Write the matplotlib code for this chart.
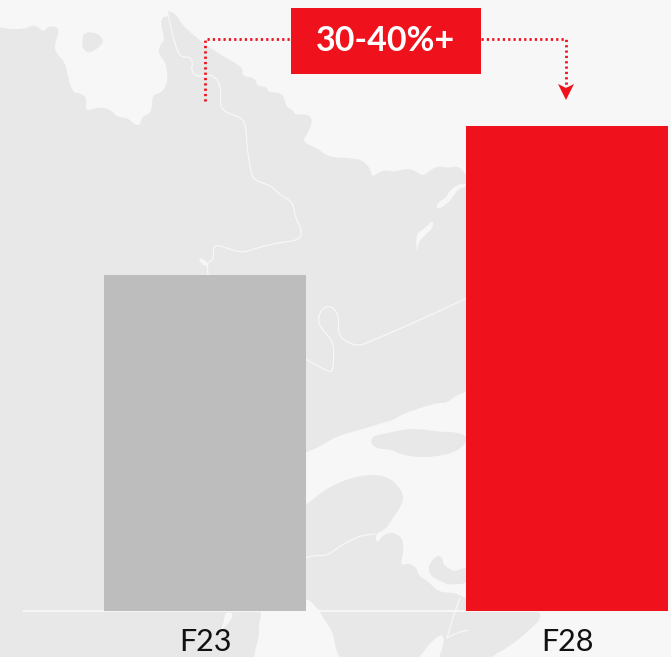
import matplotlib
matplotlib.use('Agg')
import matplotlib.pyplot as plt
import numpy as np
from matplotlib.patches import Polygon, Rectangle

# chart values (F23 indexed to 100)
categories = ['F23', 'F28']
values = [100, 144.3]
bar_colors = ['#bdbdbd', '#ef121d']
growth_label = '30-40%+'

BG = '#f7f7f7'
LAND = '#e8e8e8'
RED = '#ef121d'

# backdrop map, traced in picture pixels
mainland = [(-60, 26), (-5, 26), (7, 29), (25, 29), (32, 25), (38, 27), (44, 32), (48, 26), (57, 27), (59, 32), (55, 43),
            (55, 52), (65, 62), (68, 77), (73, 93), (80, 93), (87, 98), (85, 112), (97, 107), (110, 109),
            (117, 117), (128, 118), (135, 125), (140, 125), (142, 117), (152, 112), (152, 95), (163, 92),
            (168, 80), (166, 63), (158, 53), (160, 45), (165, 40), (161, 25), (162, 17), (168, 17), (167, 10),
            (177, 15), (182, 25), (197, 38), (213, 50), (230, 60), (243, 68), (242, 76), (255, 78), (257, 86),
            (267, 87), (268, 92), (283, 93), (286, 107), (293, 110), (295, 115), (307, 114), (313, 120),
            (308, 133), (302, 142), (317, 148), (328, 157), (350, 158), (362, 160), (370, 168), (372, 177),
            (378, 173), (385, 170), (395, 172), (408, 168), (417, 172), (423, 176), (428, 172), (437, 166),
            (448, 168), (457, 166), (464, 171), (480, 200), (480, 380), (466, 392), (457, 395), (447, 403),
            (437, 403), (420, 408), (403, 414), (393, 420), (382, 423), (363, 429), (337, 436), (317, 448),
            (306, 452), (260, 480), (250, 560), (262, 612), (259, 623), (259, 637), (255, 650), (253, 670),
            (250, 760), (-60, 760)]
lower_land = [(306, 505), (327, 488), (350, 478), (373, 474), (390, 478), (400, 488), (404, 498), (400, 508),
              (393, 518), (385, 530), (375, 534), (377, 544), (383, 535), (392, 532), (402, 537), (404, 550),
              (400, 566), (408, 563), (417, 568), (418, 575), (430, 583), (438, 592), (457, 593), (466, 599),
              (510, 605), (548, 612), (522, 637), (507, 648), (490, 657), (470, 690), (425, 690), (447, 639),
              (437, 633), (395, 690), (355, 690), (338, 655), (335, 645), (333, 633), (325, 620), (315, 605), (306, 598),
              (270, 590), (270, 530)]
island = [(84, 33), (92, 32), (100, 35), (104, 42), (98, 48), (90, 53), (83, 50), (82, 40)]
lake = [(370, 437), (387, 433), (413, 428), (440, 432), (457, 432), (470, 438), (457, 452), (433, 457),
        (413, 457), (397, 453), (393, 450), (373, 448)]
islet = [(430, 563), (437, 555), (443, 558), (443, 565), (455, 572), (462, 568), (470, 569), (470, 583),
         (450, 585), (442, 582), (432, 577), (428, 570)]
slivers = [[(433, 220), (433, 228), (425, 235), (418, 243), (417, 254), (416, 243), (417, 233), (425, 228)],
           [(437, 203), (447, 197), (449, 191), (457, 185), (466, 183), (466, 187), (458, 189), (453, 197),
            (447, 204), (437, 210)],
           [(225, 612), (234, 613), (229, 623), (220, 631), (224, 622)],
           [(198, 258), (204, 259), (209, 265), (203, 266)]]
rivers = [[(167, 10), (173, 37), (178, 53), (182, 57), (190, 57), (193, 63), (191, 70), (197, 77), (210, 74),
           (218, 80), (221, 90), (220, 107), (227, 113), (242, 118), (246, 127), (247, 147), (250, 167),
           (253, 180), (270, 185), (280, 195), (293, 202), (295, 217), (302, 230), (300, 240), (277, 243),
           (257, 248), (242, 253), (227, 248), (213, 244), (214, 260), (207, 262), (208, 275)],
          [(300, 356), (313, 363), (327, 371), (333, 372), (334, 350), (332, 340), (320, 327), (318, 318),
           (322, 309), (328, 306), (335, 309), (339, 318), (338, 332), (343, 340), (357, 346), (367, 343),
           (420, 320), (480, 292)],
          [(300, 560), (315, 555), (327, 556), (340, 546), (357, 537), (365, 535), (375, 534)],
          [(460, 598), (453, 617), (447, 638)],
          [(447, 638), (457, 633), (468, 630)]]


def smooth(pts, closed=True, n=3):
    # corner cutting so the traced outline does not look faceted
    pts = np.array(pts, dtype=float)
    for _ in range(n):
        if closed:
            nxt = np.roll(pts, -1, axis=0)
            pts = np.column_stack([0.75 * pts + 0.25 * nxt, 0.25 * pts + 0.75 * nxt]).reshape(-1, 2)
        else:
            a, b = pts[:-1], pts[1:]
            mid = np.column_stack([0.75 * a + 0.25 * b, 0.25 * a + 0.75 * b]).reshape(-1, 2)
            pts = np.vstack([pts[:1], mid, pts[-1:]])
    return pts


fig = plt.figure(figsize=(6.71, 6.57), dpi=100, facecolor=BG)

# backdrop in pixel coordinates
back = fig.add_axes([0, 0, 1, 1], zorder=0)
back.set_xlim(0, 671)
back.set_ylim(657, 0)
back.axis('off')
for shape in [mainland, lower_land, island, lake, islet]:
    back.add_patch(Polygon(smooth(shape, n=2), closed=True, fc=LAND, ec='none'))
for shape in slivers:
    back.add_patch(Polygon(smooth(shape, n=2), closed=True, fc=BG, ec='none'))
for r in rivers:
    r = smooth(r, closed=False)
    back.plot(r[:, 0], r[:, 1], color=BG, lw=0.9, solid_capstyle='round')

# bars
ax = fig.add_axes([24 / 671, 46 / 657, 647 / 671, 611 / 657], zorder=1)
ax.patch.set_alpha(0)
x = np.arange(len(categories))
ax.bar(x, values, width=202 / 362, color=bar_colors, zorder=3)
ax.set_xlim(-181 / 362, 466 / 362)
ax.set_ylim(0, 611 / 3.36)
ax.set_xticks(x)
ax.set_xticklabels(categories, fontsize=22, family='Lato', color='#111111')
ax.tick_params(axis='x', length=0, pad=12)
ax.set_yticks([])
for s in ['top', 'left', 'right']:
    ax.spines[s].set_visible(False)
ax.spines['bottom'].set_color(BG)
ax.spines['bottom'].set_linewidth(1.4)

# growth callout on top of everything, pixel coordinates again
top = fig.add_axes([0, 0, 1, 1], zorder=2)
top.set_xlim(0, 671)
top.set_ylim(657, 0)
top.axis('off')
top.add_patch(Rectangle((291, 8), 190, 66, fc=RED, ec='none'))
top.text(386, 41, growth_label, color='white', fontsize=24.5, fontweight='bold', family='Lato',
         ha='center', va='center')
top.plot([205, 205, 291], [101, 39, 39], color=RED, lw=2, dashes=(0.8, 1.12))
top.plot([481, 566, 566], [39, 39, 88], color=RED, lw=2, dashes=(0.8, 1.12))
top.add_patch(Polygon([(558, 84), (566, 88), (574, 84), (566, 100)], closed=True, fc=RED, ec='none'))

fig.savefig('out.png', dpi=100, facecolor=BG)
